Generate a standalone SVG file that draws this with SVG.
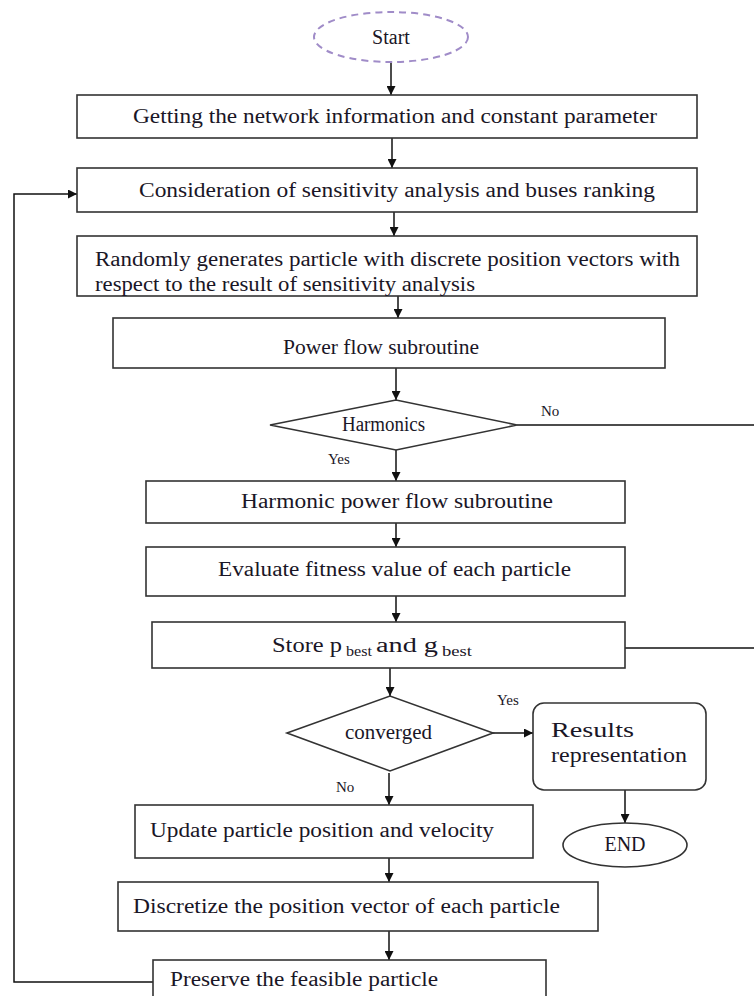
<svg xmlns="http://www.w3.org/2000/svg" width="754" height="996" viewBox="0 0 754 996">
<defs>
<marker id="ah" viewBox="0 0 10 10" refX="10" refY="5" markerWidth="9" markerHeight="9" markerUnits="userSpaceOnUse" orient="auto">
<path d="M0,0 L10,5 L0,10 z" fill="#111"/>
</marker>
<style>
.box{fill:#fff;stroke:#333;stroke-width:1.6}
.ln{fill:none;stroke:#111;stroke-width:1.5}
.t{font-family:"Liberation Serif","Times New Roman",serif;font-size:20px;fill:#1a1626}
.s{font-size:15px}
.sub{font-size:14px}
</style>
</defs>
<rect width="754" height="996" fill="#fff"/>
<g id="connectors">
<line class="ln" x1="391" y1="62" x2="391" y2="95" marker-end="url(#ah)"/>
<line class="ln" x1="392" y1="138" x2="392" y2="168" marker-end="url(#ah)"/>
<line class="ln" x1="394" y1="212" x2="394" y2="236" marker-end="url(#ah)"/>
<line class="ln" x1="398" y1="296" x2="398" y2="318" marker-end="url(#ah)"/>
<line class="ln" x1="396" y1="368" x2="396" y2="400" marker-end="url(#ah)"/>
<line class="ln" x1="517" y1="425" x2="754" y2="425"/>
<line class="ln" x1="396" y1="450" x2="396" y2="481" marker-end="url(#ah)"/>
<line class="ln" x1="396" y1="523" x2="396" y2="547" marker-end="url(#ah)"/>
<line class="ln" x1="396" y1="596" x2="396" y2="622" marker-end="url(#ah)"/>
<line class="ln" x1="625" y1="648" x2="754" y2="648"/>
<line class="ln" x1="390" y1="668" x2="390" y2="696" marker-end="url(#ah)"/>
<line class="ln" x1="493" y1="733" x2="533" y2="733" marker-end="url(#ah)"/>
<line class="ln" x1="625" y1="790" x2="625" y2="823" marker-end="url(#ah)"/>
<line class="ln" x1="389" y1="773" x2="389" y2="805" marker-end="url(#ah)"/>
<line class="ln" x1="389" y1="858" x2="389" y2="882" marker-end="url(#ah)"/>
<line class="ln" x1="389" y1="931" x2="389" y2="960" marker-end="url(#ah)"/>
<polyline class="ln" points="153,982 14,982 14,194 77,194" marker-end="url(#ah)"/>
</g>
<g id="start">
<ellipse cx="391" cy="37" rx="77" ry="25" fill="#fff" stroke="#a08cc8" stroke-width="2" stroke-dasharray="7,5"/>
<text class="t" x="391" y="44" text-anchor="middle">Start</text>
</g>
<g id="getinfo">
<rect class="box" x="77" y="95" width="620" height="43"/>
<text class="t" x="133" y="123" textLength="524" lengthAdjust="spacingAndGlyphs">Getting the network information and constant parameter</text>
</g>
<g id="sensitivity">
<rect class="box" x="77" y="168" width="620" height="44"/>
<text class="t" x="139" y="197" textLength="516" lengthAdjust="spacingAndGlyphs">Consideration of sensitivity analysis and buses ranking</text>
</g>
<g id="generate">
<rect class="box" x="77" y="236" width="620" height="60"/>
<text class="t" x="95" y="266" textLength="585" lengthAdjust="spacingAndGlyphs">Randomly generates particle with discrete position vectors with</text>
<text class="t" x="95" y="291" textLength="380" lengthAdjust="spacingAndGlyphs">respect to the result of sensitivity analysis</text>
</g>
<g id="powerflow">
<rect class="box" x="113" y="318" width="552" height="50"/>
<text class="t" x="283" y="354" textLength="196" lengthAdjust="spacingAndGlyphs">Power flow subroutine</text>
</g>
<g id="harmonics">
<polygon class="box" points="270,425 396,400 517,425 396,450"/>
<text class="t" x="342" y="431" font-size="16" textLength="83" lengthAdjust="spacingAndGlyphs">Harmonics</text>
<text class="t s" x="541" y="416">No</text>
<text class="t s" x="328" y="464">Yes</text>
</g>
<g id="harmonicflow">
<rect class="box" x="146" y="481" width="479" height="42"/>
<text class="t" x="241" y="508" textLength="312" lengthAdjust="spacingAndGlyphs">Harmonic power flow subroutine</text>
</g>
<g id="fitness">
<rect class="box" x="146" y="547" width="479" height="49"/>
<text class="t" x="218" y="576" textLength="353" lengthAdjust="spacingAndGlyphs">Evaluate fitness value of each particle</text>
</g>
<g id="store">
<rect class="box" x="152" y="622" width="473" height="46"/>
<text class="t" x="272" y="652" font-size="22" textLength="70" lengthAdjust="spacingAndGlyphs">Store p</text>
<text class="t sub" x="346" y="656" textLength="26" lengthAdjust="spacingAndGlyphs">best</text>
<text class="t" x="376" y="652" font-size="22" textLength="62" lengthAdjust="spacingAndGlyphs">and g</text>
<text class="t sub" x="442" y="656" textLength="30" lengthAdjust="spacingAndGlyphs">best</text>
</g>
<g id="converged">
<polygon class="box" points="287,733 390,696 493,733 390,771"/>
<text class="t" x="345" y="739" font-size="16" textLength="87" lengthAdjust="spacingAndGlyphs">converged</text>
<text class="t s" x="497" y="705">Yes</text>
<text class="t s" x="336" y="792">No</text>
</g>
<g id="results">
<rect class="box" x="533" y="703" width="173" height="87" rx="11"/>
<text class="t" x="551" y="737" font-size="21" textLength="83" lengthAdjust="spacingAndGlyphs">Results</text>
<text class="t" x="551" y="762" font-size="21" textLength="136" lengthAdjust="spacingAndGlyphs">representation</text>
</g>
<g id="end">
<ellipse cx="625" cy="845" rx="62" ry="22" fill="#fff" stroke="#333" stroke-width="1.6"/>
<text class="t" x="625" y="851" font-size="17" text-anchor="middle">END</text>
</g>
<g id="update">
<rect class="box" x="135" y="805" width="398" height="53"/>
<text class="t" x="150" y="837" textLength="344" lengthAdjust="spacingAndGlyphs">Update particle position and velocity</text>
</g>
<g id="discretize">
<rect class="box" x="118" y="882" width="480" height="49"/>
<text class="t" x="133" y="913" textLength="427" lengthAdjust="spacingAndGlyphs">Discretize the position vector of each particle</text>
</g>
<g id="preserve">
<rect class="box" x="153" y="960" width="393" height="50"/>
<text class="t" x="170" y="986" textLength="268" lengthAdjust="spacingAndGlyphs">Preserve the feasible particle</text>
</g>
</svg>
